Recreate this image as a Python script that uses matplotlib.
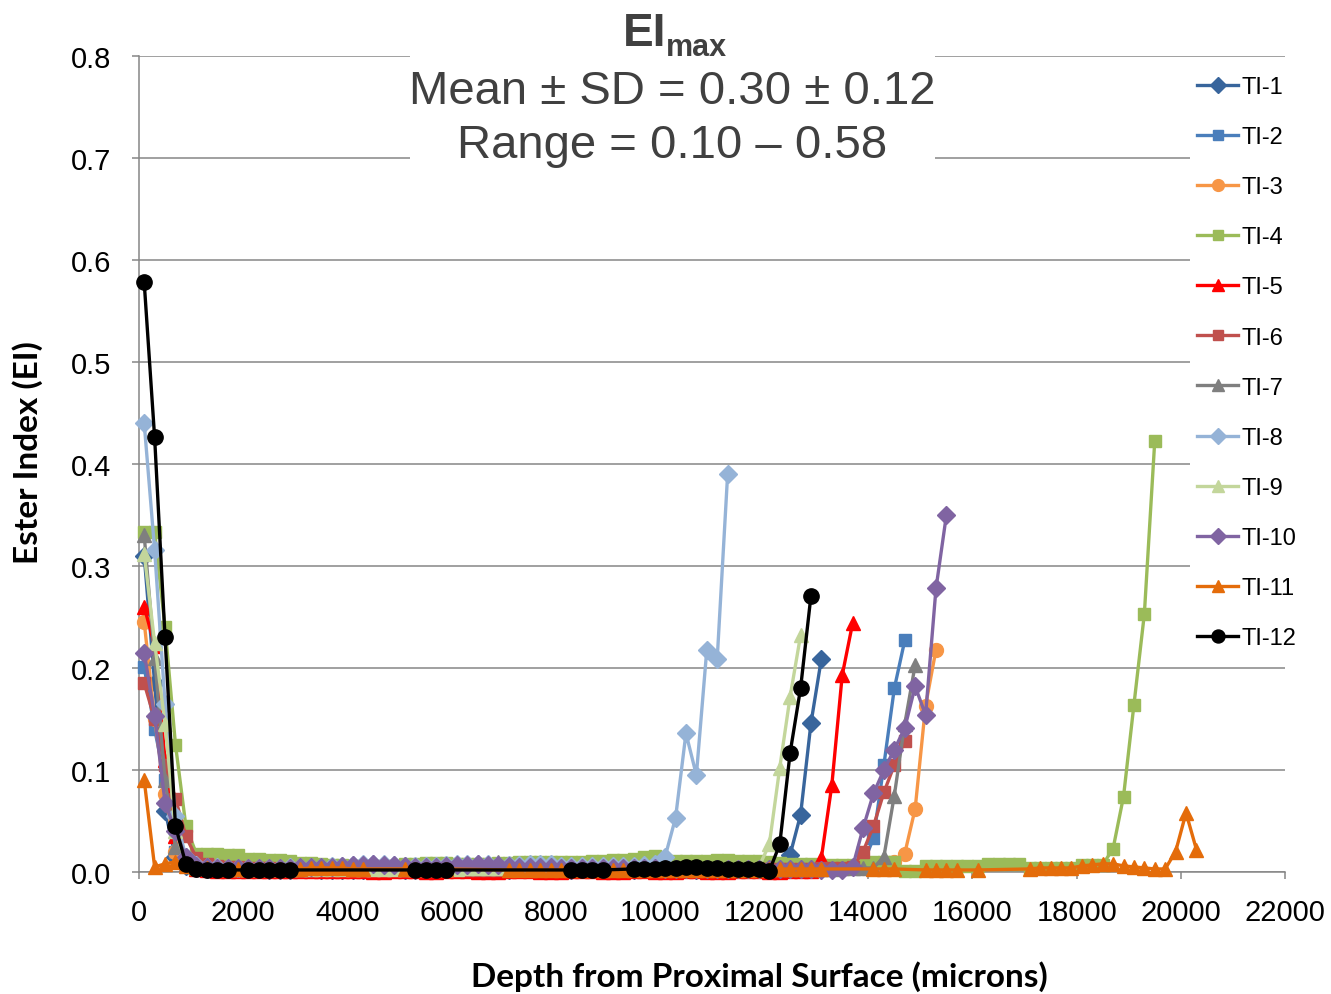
import numpy as np
import matplotlib
matplotlib.use("Agg")
import matplotlib.pyplot as plt
from matplotlib.patches import Rectangle

plt.rcParams['font.family'] = ['Liberation Sans', 'DejaVu Sans']

# depth grid: samples every 200 microns starting at 100
step = 200
start = 100

# Ester Index x 1000, one value per grid step, None = no sample at that depth
ti1 = [310, 185, 60, 15, 6, 4, 3, 3, 3, 3,
       3, 3, 2, 2, 2, 3, 3, 2, 2, 2,
       2, 2, 2, 3, 3, 2, 2, 2, 3, 3,
       3, 3, 2, 2, 2, 2, 3, 3, 3, 2,
       2, 2, 3, 3, 3, 3, 2, 2, 3, 3,
       3, 3, 3, 2, 2, 2, 3, 3, 3, 3,
       2, 3, 17, 56, 146, 209]
ti2 = [201, 140, 90, 20, 8, 5, 4, 4, 3, 3,
       3, 3, 3, 3, 2, 2, 2, 3, 3, 3,
       3, 2, 2, 2, 2, 3, 3, 3, 3, 2,
       2, 2, 2, 3, 3, 3, 2, 2, 2, 3,
       3, 3, 3, 2, 2, 2, 3, 3, 3, 3,
       2, 2, 2, 2, 3, 3, 3, 3, 3, 2,
       2, 2, 3, 3, 3, 4, 4, 4, 5, 8,
       33, 105, 180, 227]
ti3 = [245, 150, 76, 20, 8, 5, 4, 3, 3, 3,
       3, 2, 2, 2, 3, 3, 3, 2, 2, 2,
       2, 2, 3, 3, 3, 3, 2, 2, 2, 2,
       3, 3, 3, 2, 2, 2, 2, 3, 3, 3,
       3, 2, 2, 2, 2, 3, 3, 3, 3, 2,
       2, 2, 2, 3, 3, 3, 3, 2, 2, 2,
       3, 3, 3, 3, 3, 4, 4, 4, 4, 4,
       5, 5, 10, 18, 62, 163, 218]
ti4 = [333, 333, 240, 125, 45, 18, 18, 18, 17, 17,
       13, 13, 12, 12, 11, 9, 9, 8, 7, 7,
       6, 6, 6, 6, 6, 8, 8, 9, 9, 9,
       8, 8, 8, 8, 9, 9, 10, 10, 10, 10,
       10, 10, 10, 11, 11, 12, 12, 13, 15, 16,
       11, 11, 11, 11, 11, 12, 12, 11, 11, 11,
       10, 9, 8, 8, 8, 7, 7, 7, 7, 7,
       10, 10, 10, 1, 1, 6, 6, 6, 6, 6,
       6, 8, 8, 8, 8, 4, 4, 4, 4, 4,
       7, 7, 7, 23, 74, 164, 253, 423]
ti5 = [260, 222, 110, 35, 8, 3, 2, 1, 1, 1,
       1, 1, 1, 1, 1, 1, 1, 1, 1, 1,
       1, 1, 0, 0, 1, 1, 1, 0, 0, 1,
       1, 1, 0, 0, 0, 1, 1, 1, 0, 0,
       0, 1, 1, 1, 0, 0, 0, 1, 1, 0,
       0, 0, 1, 1, 0, 0, 0, 1, 1, 1,
       0, 0, 1, 1, 1, 14, 85, 193, 244]
ti6 = [185, 150, 105, 72, 35, 14, 8, 6, 5, 5,
       4, 4, 4, 3, 3, 3, 3, 3, 3, 3,
       3, 3, 2, 2, 2, 2, 3, 3, 3, 3,
       2, 2, 2, 2, 2, 3, 3, 3, 2, 2,
       2, 2, 2, 3, 3, 3, 3, 2, 2, 2,
       2, 3, 3, 3, 3, 2, 2, 2, 2, 3,
       3, 3, 3, 3, 3, 4, 4, 4, 5, 20,
       45, 78, 105, 128]
ti7 = [330, 210, 90, 25, 8, 5, 4, 4, 3, 3,
       3, 3, 3, 3, 3, 3, 3, 4, 4, 4,
       4, 5, 5, 6, 5, 4, 4, 4, 4, 5,
       5, 5, 6, 7, 10, 6, 5, 5, 4, 4,
       4, 4, 4, 4, 4, 4, 4, 4, 4, 4,
       3, 3, 3, 3, 3, 3, 3, 3, 3, 3,
       3, 3, 3, 3, 3, 3, 3, 4, 4, 4,
       4, 15, 75, 145, 203]
ti8 = [440, 316, 165, 55, 15, 7, 5, 5, 4, 4,
       4, 4, 4, 4, 5, 5, 5, 5, 6, 6,
       7, 8, 8, 8, 7, 6, 6, 6, 6, 7,
       8, 8, 8, 8, 7, 7, 7, 8, 8, 8,
       6, 6, 6, 6, 6, 6, 6, 6, 7, 8,
       15, 53, 136, 95, 218, 209, 390]
ti9 = [312, 225, 145, 40, 10, 5, 4, 4, 4, 3,
       3, 3, 3, 3, 3, 3, 3, 3, 3, 3,
       3, 3, 3, 3, 3, 3, 3, 3, 3, 3,
       3, 4, 4, 4, 4, 4, 4, 4, 4, 4,
       4, 4, 4, 4, 4, 5, 5, 5, 5, 5,
       5, 5, 5, 5, 5, 5, 5, 5, 5, 5,
       27, 102, 172, 232]
ti10 = [215, 153, 68, 40, 15, 6, 5, 4, 4, 4,
        4, 4, 4, 4, 4, 5, 5, 5, 5, 6,
        7, 7, 8, 7, 7, 6, 5, 5, 5, 6,
        7, 7, 8, 7, 7, 6, 5, 5, 5, 5,
        4, 4, 4, 4, 4, 4, 4, 4, 4, 4,
        3, 3, 3, 3, 3, 3, 3, 3, 3, 3,
        3, 3, 3, 3, 3, 2, 2, 2, 5, 43,
        77, 100, 120, 141, 182, 154, 278, 350]
ti11 = [90, 5, 8, 10, 6, 4, 4, 3, 3, 3,
        3, 3, 3, 3, 3, 3, 4, 4, 4, 4,
        3, 3, None, None, None, 3, 3, 3, 3, 3,
        None, None, None, None, None, 2, 2, 2, 2, 2,
        2, 2, 2, 2, 2, 2, 2, 2, 2, 2,
        2, 2, 2, 2, 2, 2, 2, 2, 2, 2,
        3, 3, 3, 3, 3, 3, None, None, None, None,
        3, 3, 3, None, None, 2, 2, 2, 2, None,
        2, None, None, None, None, 3, 4, 4, 4, 4,
        6, 7, 8, 8, 6, 5, 4, 3, 3, 20,
        58, 22]
ti12 = [578, 426, 230, 45, 8, 3, 2, 2, 2, None,
        2, 2, 2, 2, 2, None, None, None, None, None,
        None, None, None, None, None, None, 2, 2, 2, 2,
        None, None, None, None, None, None, None, None, None, None,
        None, 2, 2, 2, 2, None, None, 3, 3, 3,
        4, 4, 5, 5, 4, 4, 3, 3, 3, 3,
        1, 27, 117, 180, 271]

labels = ['TI-1', 'TI-2', 'TI-3', 'TI-4', 'TI-5', 'TI-6',
          'TI-7', 'TI-8', 'TI-9', 'TI-10', 'TI-11', 'TI-12']
series = [ti1, ti2, ti3, ti4, ti5, ti6, ti7, ti8, ti9, ti10, ti11, ti12]
colors = ['#38659c', '#4a7ebb', '#f79646', '#9bbb59', '#ff0000', '#c0504d',
          '#7f7f7f', '#95b3d7', '#c3d69b', '#8064a2', '#e46c0a', '#000000']
markers = ['D', 's', 'o', 's', '^', 's', '^', 'D', '^', 'D', '^', 'o']
msizes = [9, 9, 10, 9, 10, 9, 10, 9, 10, 9, 10, 11]

W, H = 1331, 995
fig = plt.figure(figsize=(W / 100, H / 100), dpi=100)
ax = fig.add_axes([139 / W, 1 - 873 / H, (1285 - 139) / W, (873 - 57) / H])

grey = '#868686'
for vals, lab, c, m, ms in zip(series, labels, colors, markers, msizes):
    d = [start + step * i for i, v in enumerate(vals) if v is not None]
    y = [v / 1000 for v in vals if v is not None]
    ax.plot(d, y, color=c, lw=2.4, marker=m, ms=ms, mfc=c, mec=c,
            label=lab, clip_on=False, zorder=3)

ax.set_xlim(0, 22000)
ax.set_ylim(0, 0.8)
ax.set_xticks(np.arange(0, 22001, 2000))
ax.set_yticks(np.arange(0, 0.81, 0.1))
ax.set_yticklabels(['%.1f' % v for v in np.arange(0, 0.81, 0.1)])
ax.yaxis.grid(True, color=grey, lw=1.1)
ax.set_axisbelow(True)
for s in ['top', 'right']:
    ax.spines[s].set_visible(False)
for s in ['left', 'bottom']:
    ax.spines[s].set_color(grey)
    ax.spines[s].set_linewidth(1.1)
ax.tick_params(axis='both', colors=grey, labelcolor='#000000', labelsize=21,
               length=5, width=1.1)
ax.tick_params(axis='x', pad=14)
ax.tick_params(axis='y', pad=15)

ax.set_xlabel('Depth from Proximal Surface (microns)', fontsize=24,
              fontweight='bold', family=['Lato', 'DejaVu Sans'])
ax.xaxis.set_label_coords(0.541, -0.127)
ax.xaxis.label.set_va('center')
ax.set_ylabel('Ester Index (EI)', fontsize=24, fontweight='bold',
              family=['Lato', 'DejaVu Sans'])
ax.yaxis.set_label_coords(-0.097, 0.515)
ax.yaxis.label.set_va('center')

# white box behind the title block
fig.add_artist(Rectangle((410 / W, 1 - 168 / H), 525 / W, 168 / H,
                         transform=fig.transFigure, facecolor='white',
                         edgecolor='none', zorder=5))
tcol = '#404040'
fig.text(666 / W, 1 - 46 / H, 'EI', ha='right', va='baseline', fontsize=33,
         fontweight='bold', color=tcol, zorder=6)
fig.text(666 / W, 1 - 56 / H, 'max', ha='left', va='baseline', fontsize=22,
         fontweight='bold', color=tcol, zorder=6)
fig.text(672 / W, 1 - 104 / H, 'Mean \u00b1 SD = 0.30 \u00b1 0.12', ha='center',
         va='baseline', fontsize=34, color=tcol, zorder=6)
fig.text(672 / W, 1 - 158 / H, 'Range = 0.10 \u2013 0.58', ha='center',
         va='baseline', fontsize=34, color=tcol, zorder=6)

leg = fig.legend(loc='upper left', bbox_to_anchor=(1190 / W, 1 - 70 / H),
                 fontsize=17, frameon=True, facecolor='white', edgecolor='none',
                 framealpha=1, fancybox=False, handlelength=1.75,
                 handletextpad=0.12, labelspacing=1.19, markerscale=0.85,
                 borderpad=0.3, borderaxespad=0)
leg.set_zorder(7)

fig.savefig('out.png', dpi=100)
